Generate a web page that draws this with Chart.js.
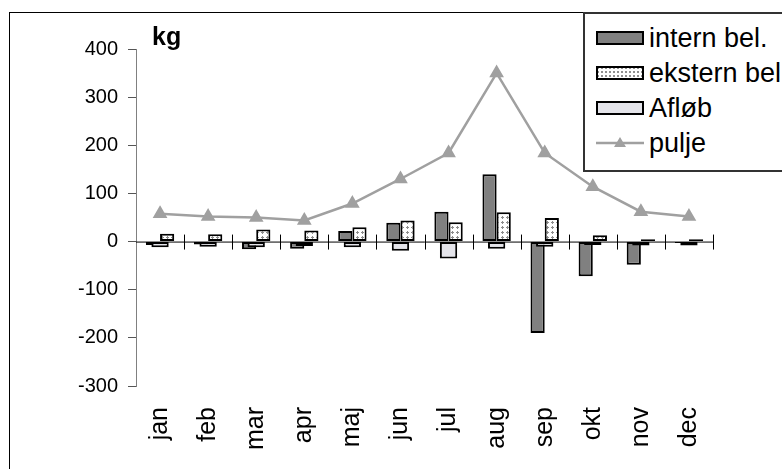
<!DOCTYPE html>
<html>
<head>
<meta charset="utf-8">
<script src="https://cdn.jsdelivr.net/npm/chart.js@4"></script>
<style>
  html, body { margin: 0; padding: 0; background: #fff; }
  body { width: 782px; height: 469px; position: relative; overflow: hidden;
         font-family: 'Liberation Sans', Arial, sans-serif; }
  #frame { position: absolute; left: 9px; top: 12px; width: 800px; height: 480px;
           border: 1.5px solid #000; box-sizing: border-box; }
  #wrap { position: absolute; left: 0; top: 0; width: 782px; height: 469px; }
  #unit { position: absolute; left: 152px; top: 22px; font-weight: bold; font-size: 25px; color: #000; }
  #legend { position: absolute; left: 583px; top: 12px; width: 220px; height: 160px;
            border: 2px solid #333; box-sizing: border-box; background: #fff; }
  .row { position: absolute; left: 11px; height: 30px; display: flex; align-items: center; }
  .row svg { margin-right: 5px; }
  .row span { font-size: 27px; color: #000; white-space: nowrap; }
</style>
</head>
<body>
<div id="frame"></div>
<div id="wrap"><canvas id="chart" width="782" height="469"></canvas></div>
<div id="unit">kg</div>
<div id="legend">
  <div class="row" style="top:9px">
    <svg width="48" height="14"><rect x="1" y="1" width="46" height="12" fill="#808080" stroke="#000" stroke-width="2"/></svg>
    <span>intern bel.</span>
  </div>
  <div class="row" style="top:44px">
    <svg width="48" height="14">
      <defs><pattern id="dots" width="4" height="4" patternUnits="userSpaceOnUse">
        <rect width="4" height="4" fill="#fff"/><rect x="1" y="1" width="2" height="2" fill="#909090"/>
      </pattern></defs>
      <rect x="1" y="1" width="46" height="12" fill="url(#dots)" stroke="#000" stroke-width="2"/></svg>
    <span>ekstern bel.</span>
  </div>
  <div class="row" style="top:79px">
    <svg width="48" height="14"><rect x="1" y="1" width="46" height="12" fill="#e4e4ea" stroke="#000" stroke-width="2"/></svg>
    <span>Afløb</span>
  </div>
  <div class="row" style="top:114px">
    <svg width="48" height="14"><line x1="0" y1="7" x2="48" y2="7" stroke="#a0a0a0" stroke-width="2.5"/>
      <polygon points="24,1 30,11 18,11" fill="#a0a0a0"/></svg>
    <span>pulje</span>
  </div>
</div>
<script>
/* ---------- data ---------- */
const months  = ['jan','feb','mar','apr','maj','jun','jul','aug','sep','okt','nov','dec'];
const intern  = [-7, -6, -16, -15, 22, 39, 62, 140, -190, -72, -48, -3];
const ekstern = [16, 15, 25, 23, 30, 44, 40, 61, 49, 13, 5, 5];
const afloeb  = [-12, -11, -12, -9, -12, -19, -35, -15, -11, -7, -8, -8];
const pulje   = [58, 52, 50, 44, 79, 130, 184, 350, 184, 114, 62, 52];
const yTicks  = [400, 300, 200, 100, 0, -100, -200, -300];

const FONT = "'Liberation Sans', Arial, sans-serif";

/* ---------- dotted pattern for ekstern ---------- */
function makeDots() {
    const p = document.createElement('canvas');
    p.width = 5; p.height = 5;
    const c = p.getContext('2d');
    c.fillStyle = '#fff'; c.fillRect(0, 0, 5, 5);
    c.fillStyle = '#8c8c8c';
    c.fillRect(1, 2, 3, 1);
    c.fillRect(2, 1, 1, 3);
    return c.createPattern(p, 'repeat');
}

/* ---------- zero axis with crossing ticks ---------- */
const zeroAxis = {
    id: 'zeroAxis',
    beforeDatasetsDraw(chart) {
        const { ctx, chartArea, scales } = chart;
        const y0 = scales.y.getPixelForValue(0);
        const step = (chartArea.right - chartArea.left) / months.length;
        ctx.save();
        ctx.strokeStyle = '#000';
        ctx.lineWidth = 1;
        ctx.beginPath();
        ctx.moveTo(chartArea.left, y0 + 0.5);
        ctx.lineTo(chartArea.right, y0 + 0.5);
        for (let i = 1; i <= months.length; i++) {
            const x = Math.round(chartArea.left + i * step) + 0.5;
            ctx.moveTo(x, y0 - 7);
            ctx.lineTo(x, y0 + 8);
        }
        ctx.stroke();
        ctx.restore();
    }
};

const ctx = document.getElementById('chart');
new Chart(ctx, {
    type: 'bar',
    data: {
        labels: months,
        datasets: [
            {
                type: 'line',
                label: 'pulje',
                data: pulje,
                borderColor: '#a0a0a0',
                backgroundColor: '#a0a0a0',
                borderWidth: 2.5,
                pointStyle: 'triangle',
                pointRadius: 6,
                pointBackgroundColor: '#a0a0a0',
                pointBorderColor: '#a0a0a0',
                tension: 0,
                order: 0,
            },
            {
                label: 'Afløb',
                data: afloeb,
                grouped: false,           // centred on the month, drawn over the others
                backgroundColor: '#e4e4ea',
                borderColor: '#000',
                borderWidth: 2,
                borderSkipped: false,
                categoryPercentage: 0.36,
                barPercentage: 1,
                order: 1,
            },
            {
                label: 'intern bel.',
                data: intern,
                backgroundColor: '#808080',
                borderColor: '#000',
                borderWidth: 2,
                borderSkipped: false,
                categoryPercentage: 0.59,
                barPercentage: 1,
                order: 2,
            },
            {
                label: 'ekstern bel.',
                data: ekstern,
                backgroundColor: makeDots(),
                borderColor: '#000',
                borderWidth: 2,
                borderSkipped: false,
                categoryPercentage: 0.59,
                barPercentage: 1,
                order: 3,
            }
        ]
    },
    options: {
        responsive: false,
        animation: false,
        layout: { padding: { left: 0, right: 69, top: 49, bottom: 0 } },
        plugins: { legend: { display: false }, tooltip: { enabled: false } },
        scales: {
            x: {
                offset: true,
                grid: { display: false, drawTicks: false },
                border: { display: false },
                ticks: {
                    autoSkip: false, minRotation: 90, maxRotation: 90, padding: 21,
                    color: '#000', font: { family: FONT, size: 25 }
                },
                afterFit: s => { s.height = 83; }
            },
            y: {
                min: -300, max: 400,
                grid: { display: true, drawOnChartArea: false, drawTicks: true, tickLength: 8, color: '#555' },
                border: { display: true, color: '#808080', width: 1 },
                afterBuildTicks: s => { s.ticks = yTicks.map(v => ({ value: v })); },
                ticks: { padding: 10, color: '#000', font: { family: FONT, size: 20 } },
                afterFit: s => { s.width = 136; }
            }
        }
    },
    plugins: [zeroAxis]
});
</script>
</body>
</html>
